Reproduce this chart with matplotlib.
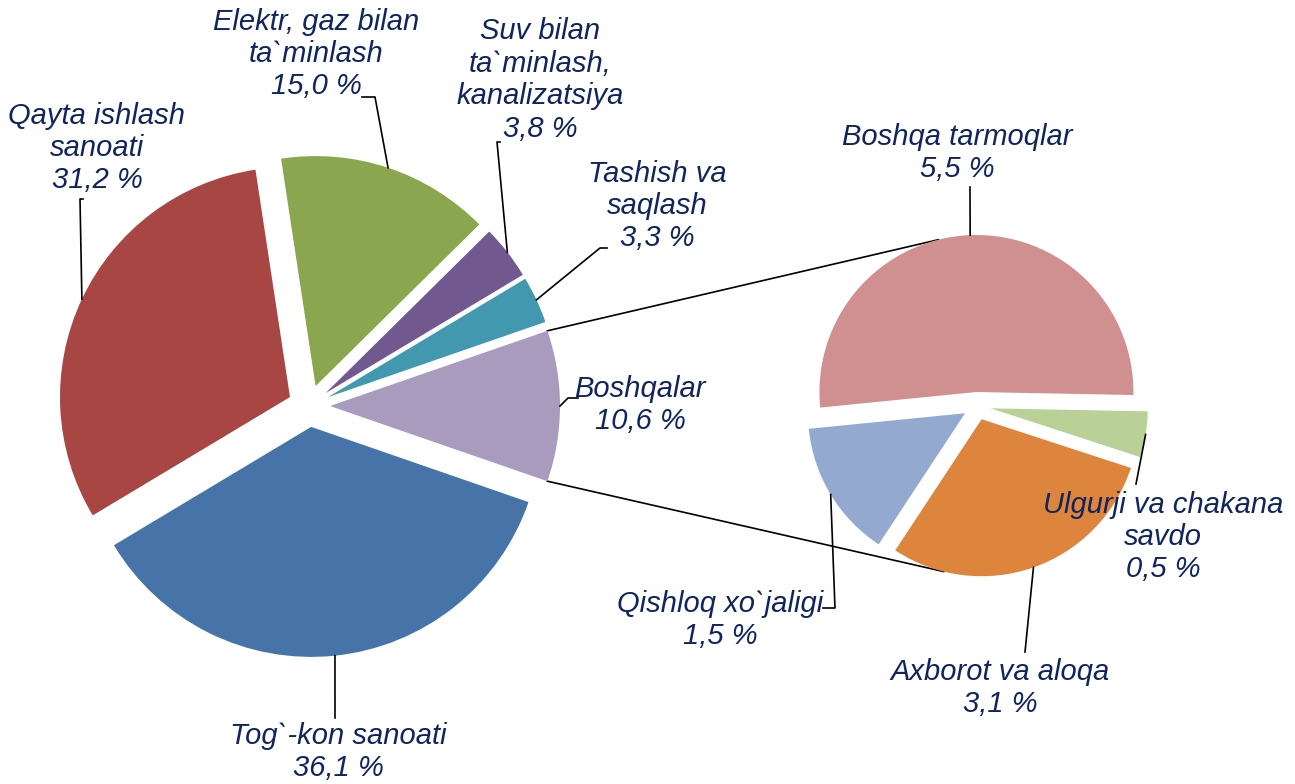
import matplotlib.pyplot as plt
import numpy as np

plt.rcParams['font.family'] = ['Liberation Sans', 'DejaVu Sans']

# main pie (order counter-clockwise starting with the "other" slice)
main_labels = ["Boshqalar", "Tashish va\nsaqlash", "Suv bilan\nta`minlash,\nkanalizatsiya",
               "Elektr, gaz bilan\nta`minlash", "Qayta ishlash\nsanoati", "Tog`-kon sanoati"]
main_values = [10.6, 3.3, 3.8, 15.0, 31.2, 36.1]
main_colors = ["#A99BBD", "#4198AF", "#71598F", "#8AA64E", "#A84644", "#4674A8"]

# breakdown of "Boshqalar"
sub_labels = ["Boshqa tarmoqlar", "Qishloq xo`jaligi", "Axborot va aloqa", "Ulgurji va chakana\nsavdo"]
sub_values = [5.5, 1.5, 3.1, 0.5]
sub_colors = ["#D09090", "#93A9CF", "#DD843D", "#B9D096"]

W, H = 1295, 784
text_color = "#10245F"


def py(y):
    # pixel row -> data y
    return H - y


fig = plt.figure(figsize=(W / 100, H / 100), dpi=100)
ax = fig.add_axes([0, 0, 1, 1])

c1, r1, e1 = (309, py(406)), 230, 21
c2, r2, e2 = (977, py(406)), 157, 14

start1 = -main_values[0] / sum(main_values) * 180
w1, _ = ax.pie(main_values, colors=main_colors, center=c1, radius=r1,
               explode=[e1] * len(main_values), startangle=start1,
               counterclock=True, wedgeprops=dict(linewidth=0))
w2, _ = ax.pie(sub_values, colors=sub_colors, center=c2, radius=r2,
               explode=[e2] * len(sub_values), startangle=-1.1,
               counterclock=True, wedgeprops=dict(linewidth=0))


def arc_point(w, ang=None):
    if ang is None:
        ang = (w.theta1 + w.theta2) / 2
    cx, cy = w.center
    return cx + w.r * np.cos(np.radians(ang)), cy + w.r * np.sin(np.radians(ang))


# connector lines between the pies
p1 = arc_point(w1[0], w1[0].theta2)
p2 = arc_point(w1[0], w1[0].theta1)
q1 = arc_point(w2[0], 104)
q2 = arc_point(w2[2], 256)
ax.plot([p1[0], q1[0]], [p1[1], q1[1]], color="black", lw=1.2, zorder=0)
ax.plot([p2[0], q2[0]], [p2[1], q2[1]], color="black", lw=1.2, zorder=0)


def fmt(v):
    return f"{v:.1f} %".replace(".", ",")


# label positions (pixel) and leader elbow points
main_pos = [(640, 405), (657, 206), (540, 80), (316, 54), (97, 148), (338, 752)]
main_lead = [[(568, 398), (578, 398)], [(600, 248), (607, 248)], [(497, 142), (500, 142)],
             [(375, 97), (362, 97)], [(80, 199), (83, 199)], [(335, 718)]]
sub_pos = [(957, 153), (720, 620), (1000, 688), (1163, 537)]
sub_lead = [[(970, 187)], [(835, 608), (823, 608)], [(1025, 652)], [(1136, 484)]]

for wedges, labels, values, pos, lead in [(w1, main_labels, main_values, main_pos, main_lead),
                                          (w2, sub_labels, sub_values, sub_pos, sub_lead)]:
    for w, lab, v, (tx, ty), pts in zip(wedges, labels, values, pos, lead):
        ax.text(tx, py(ty), f"{lab}\n{fmt(v)}", ha="center", va="center",
                multialignment="center", fontsize=21, style="italic",
                color=text_color, linespacing=1.2)
        a = arc_point(w)
        xs = [a[0]] + [p[0] for p in pts]
        ys = [a[1]] + [py(p[1]) for p in pts]
        ax.plot(xs, ys, color="black", lw=1.2)

ax.set_xlim(0, W)
ax.set_ylim(0, H)
ax.set_aspect("equal")
ax.axis("off")
fig.savefig("out.png", dpi=100)
